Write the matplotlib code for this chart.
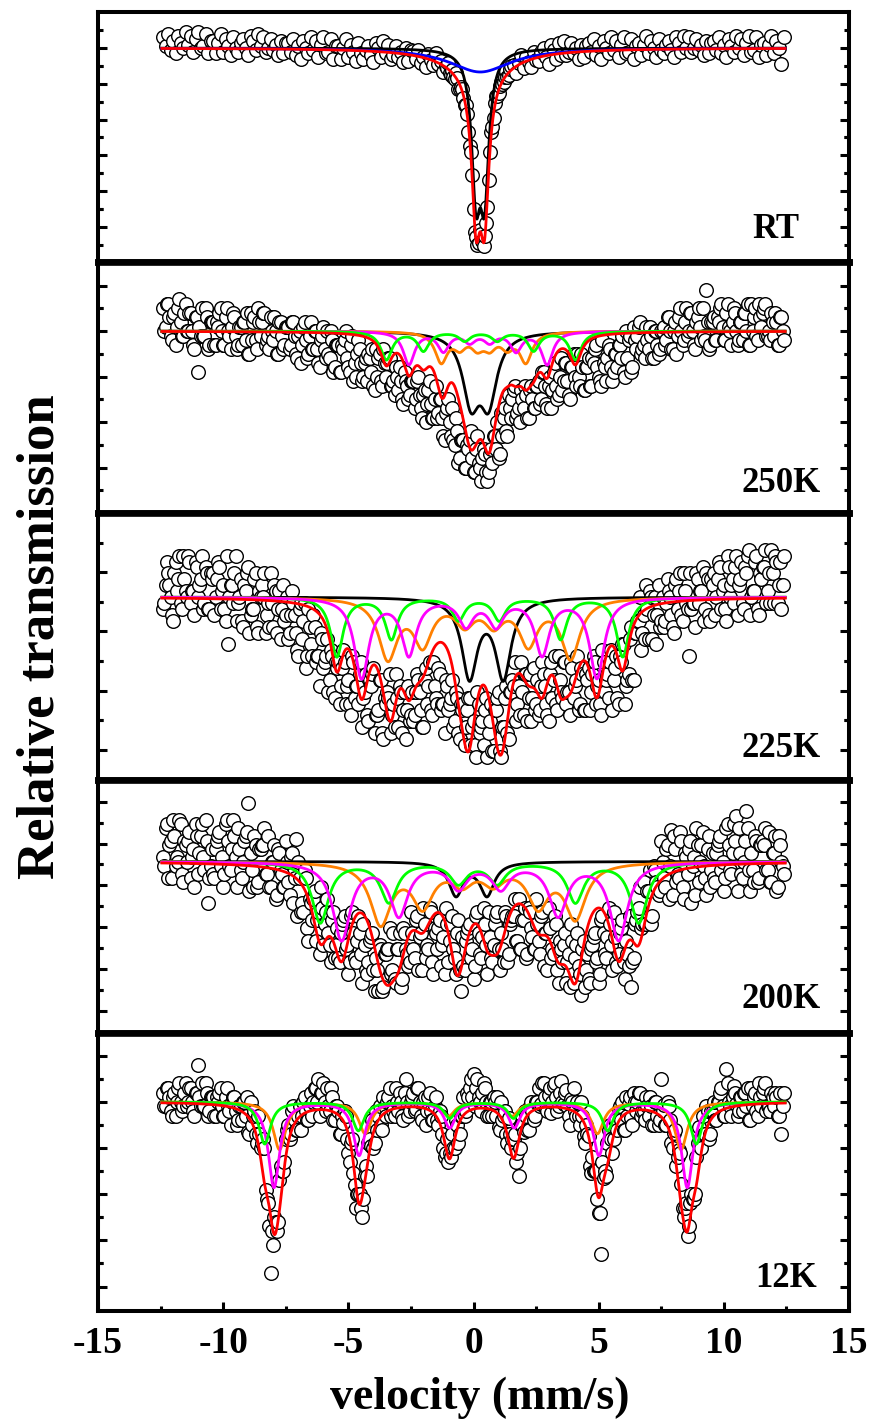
import numpy as np
import matplotlib
matplotlib.use("Agg")
import matplotlib.pyplot as plt

plt.rcParams["font.family"] = ["Liberation Serif", "DejaVu Serif"]
plt.rcParams["font.weight"] = "bold"
plt.rcParams["axes.unicode_minus"] = False

# velocity channels (mm/s): one every 0.1 mm/s, a second set shifted by half a
# channel for the noisy spectra, and extra channels in the RT line
vel = np.round(np.arange(-12.4, 12.41, 0.1), 2)
vel_b = np.round(np.arange(-12.35, 12.36, 0.1), 2)
rt_core_vel = np.round(np.arange(-1.05, 1.46, 0.1), 2)

# relative transmission (%), rows of 1 mm/s
rt_T = [
    100.30, 100.05, 100.40, 99.95, 100.20, 99.85, 100.35, 100.15, 100.00, 100.45,
    100.10, 100.35, 99.90, 100.25, 100.45, 100.00, 100.05, 100.40, 99.85, 100.20,
    100.20, 99.85, 100.15, 100.40, 99.90, 100.25, 100.05, 99.80, 100.30, 100.00,
    99.90, 100.15, 100.25, 100.00, 99.80, 100.35, 100.20, 99.95, 100.40, 100.05,
    100.30, 99.90, 100.00, 100.25, 99.95, 100.10, 99.80, 100.20, 99.85, 100.15,
    100.15, 99.90, 100.25, 99.80, 100.05, 99.70, 100.20, 100.00, 99.85, 100.30,
    99.95, 100.20, 99.75, 100.10, 100.30, 99.85, 99.90, 100.25, 99.70, 100.05,
    100.05, 99.70, 100.00, 100.25, 99.75, 100.10, 99.90, 99.65, 100.15, 99.85,
    99.70, 99.95, 100.05, 99.80, 99.60, 100.15, 100.00, 99.75, 100.20, 99.85,
    100.10, 99.70, 99.80, 100.05, 99.75, 99.90, 99.60, 100.00, 99.65, 99.95,
    99.92, 99.70, 99.96, 99.58, 99.76, 99.46, 99.84, 99.66, 99.52, 99.86,
    99.55, 99.65, 99.33, 99.50, 99.58, 99.24, 99.20, 99.31, 98.86, 98.91,
    98.60, 98.40, 97.65, 97.10, 95.50, 94.70, 94.55, 94.80, 94.45, 95.10,
    96.30, 97.65, 98.05, 98.65, 98.75, 99.05, 99.05, 99.35, 99.25, 99.50,
    99.53, 99.30, 99.57, 99.81, 99.44, 99.75, 99.62, 99.46, 99.88, 99.67,
    99.65, 99.90, 100.00, 99.75, 99.55, 100.10, 99.95, 99.70, 100.15, 99.80,
    100.20, 99.80, 99.90, 100.15, 99.85, 100.00, 99.70, 100.10, 99.75, 100.05,
    100.15, 99.90, 100.25, 99.80, 100.05, 99.70, 100.20, 100.00, 99.85, 100.30,
    99.95, 100.20, 99.75, 100.10, 100.30, 99.85, 99.90, 100.25, 99.70, 100.05,
    100.15, 99.80, 100.10, 100.35, 99.85, 100.20, 100.00, 99.75, 100.25, 99.95,
    99.85, 100.10, 100.20, 99.95, 99.75, 100.30, 100.15, 99.90, 100.35, 100.00,
    100.30, 99.90, 100.00, 100.25, 99.95, 100.10, 99.80, 100.20, 99.85, 100.15,
    100.20, 99.95, 100.30, 99.85, 100.10, 99.75, 100.25, 100.05, 99.90, 100.35,
    100.00, 100.25, 99.80, 100.15, 100.35, 99.90, 99.95, 100.30, 99.75, 100.10,
    100.15, 99.80, 100.10, 100.35, 99.85, 100.20, 100.00, 99.55, 100.30,
]
rt_core_T = [
    99.45, 99.30, 99.38, 99.12, 99.15, 98.85, 98.85, 98.40, 98.15, 97.25,
    96.45, 94.85, 94.50, 94.90, 94.60, 94.75, 95.55, 97.10, 97.80, 98.45,
    98.65, 98.95, 99.00, 99.20, 99.20, 99.40,
]
k250_T = [
    100.5, 100.1, 100.6, 99.9, 100.3, 99.7, 100.5, 100.2, 99.9, 100.6,
    100.0, 100.4, 99.7, 100.3, 99.1, 99.9, 99.9, 100.5, 99.6, 100.2,
    100.2, 99.7, 100.1, 100.5, 99.7, 100.3, 100.0, 99.6, 100.4, 99.9,
    99.7, 100.1, 100.2, 99.8, 99.5, 100.4, 100.2, 99.8, 100.5, 99.9,
    100.4, 99.7, 99.9, 100.3, 99.8, 100.0, 99.5, 100.2, 99.6, 100.1,
    100.1, 99.7, 100.2, 99.5, 99.9, 99.3, 100.1, 99.8, 99.5, 100.2,
    99.6, 100.0, 99.3, 99.8, 100.1, 99.4, 99.5, 100.0, 99.1, 99.7,
    99.7, 99.1, 99.6, 100.0, 99.2, 99.7, 98.9, 99.0, 99.8, 99.3,
    99.0, 99.4, 99.5, 99.1, 98.8, 99.6, 99.4, 98.9, 99.6, 99.0,
    99.4, 98.8, 98.9, 99.2, 98.7, 98.9, 98.4, 98.9, 98.5, 98.9,
    98.9, 98.5, 99.0, 98.3, 98.6, 98.0, 98.7, 98.4, 98.1, 98.8,
    98.2, 98.5, 97.7, 98.2, 98.5, 97.7, 97.6, 98.1, 97.1, 97.6,
    97.6, 97.0, 97.4, 97.8, 96.9, 97.4, 97.1, 96.7, 97.4, 96.9,
    96.9, 97.4, 97.7, 97.4, 97.2, 98.2, 98.1, 97.8, 98.6, 98.1,
    98.7, 98.1, 98.3, 98.7, 98.3, 98.6, 98.1, 98.8, 98.3, 98.8,
    98.9, 98.5, 99.1, 98.4, 98.8, 98.3, 99.1, 98.8, 98.6, 99.4,
    98.9, 99.3, 98.6, 99.2, 99.5, 98.8, 99.0, 99.5, 98.7, 99.2,
    99.4, 98.8, 99.3, 99.7, 99.0, 98.8, 99.3, 98.9, 99.7, 99.2,
    99.1, 99.5, 99.7, 99.4, 99.1, 100.0, 99.8, 99.1, 100.1, 99.6,
    100.1, 99.5, 99.7, 100.1, 99.6, 99.9, 99.4, 100.0, 99.5, 100.0,
    100.1, 99.8, 100.3, 99.6, 100.0, 99.5, 100.3, 100.0, 99.8, 100.5,
    100.0, 100.4, 99.7, 100.2, 100.5, 99.8, 99.9, 100.9, 99.6, 100.2,
    100.3, 99.8, 100.2, 100.6, 99.8, 100.4, 100.1, 99.7, 100.5, 100.0,
    99.8, 100.2, 100.4, 100.0, 99.7, 100.6, 100.3, 99.9, 100.6, 100.1,
    100.5, 99.9, 100.0, 100.4, 99.9, 100.2, 99.7, 100.3, 99.8,
]
k250_Tb = [
    100.0, 100.6, 100.3, 99.8, 100.4, 100.1, 100.7, 99.9, 100.4, 100.0,
    100.4, 100.0, 99.6, 100.3, 100.1, 100.5, 99.9, 100.3, 99.7, 100.2,
    99.7, 100.2, 100.4, 100.0, 99.7, 100.5, 99.9, 100.1, 100.3, 99.6,
    100.1, 99.7, 100.2, 100.4, 99.5, 99.8, 100.3, 99.6, 100.2, 100.2,
    100.4, 99.8, 99.6, 100.0, 100.3, 99.5, 100.2, 99.9, 99.7, 100.1,
    99.6, 100.2, 99.9, 99.4, 100.0, 99.7, 100.2, 99.4, 99.9, 99.6,
    100.0, 99.6, 99.2, 99.9, 99.6, 100.0, 99.4, 99.8, 99.2, 99.7,
    99.1, 99.7, 99.8, 99.4, 99.1, 99.9, 99.3, 99.5, 99.6, 98.9,
    99.3, 98.9, 99.4, 99.6, 98.7, 99.0, 99.5, 98.8, 99.3, 99.3,
    99.4, 98.8, 98.6, 99.0, 99.2, 98.5, 99.1, 98.8, 98.6, 98.9,
    98.3, 98.9, 98.6, 98.1, 98.7, 98.4, 98.9, 98.1, 98.5, 98.1,
    98.5, 98.1, 97.6, 98.3, 98.0, 98.3, 97.5, 97.8, 97.2, 97.6,
    97.0, 97.5, 97.6, 97.2, 96.9, 97.7, 97.0, 97.2, 97.3, 96.7,
    97.3, 97.1, 97.7, 98.0, 97.3, 97.7, 98.3, 97.7, 98.3, 98.5,
    98.8, 98.2, 98.0, 98.5, 98.8, 98.1, 98.7, 98.5, 98.3, 98.8,
    98.4, 99.1, 98.8, 98.3, 99.0, 98.7, 99.3, 98.5, 99.0, 98.7,
    99.3, 98.9, 98.5, 99.2, 99.0, 99.5, 98.8, 99.2, 98.7, 99.2,
    98.8, 99.4, 99.6, 99.2, 98.9, 99.8, 99.2, 99.4, 99.6, 98.9,
    99.5, 99.2, 99.7, 99.9, 99.0, 99.4, 99.9, 99.2, 99.8, 99.9,
    100.2, 99.6, 99.4, 99.8, 100.1, 99.4, 100.0, 99.7, 99.6, 100.0,
    99.7, 100.3, 100.0, 99.6, 100.2, 99.9, 100.5, 99.7, 100.2, 99.9,
    100.4, 100.0, 99.6, 100.3, 100.1, 100.5, 99.8, 100.2, 99.7, 100.2,
    99.8, 100.3, 100.5, 100.1, 99.8, 100.6, 100.0, 100.2, 100.4, 99.7,
    100.2, 99.8, 100.4, 100.6, 99.7, 100.0, 100.5, 99.8, 100.3, 100.4,
    100.6, 99.9, 99.8, 100.2, 100.4, 99.7, 100.3, 100.0,
]
k225_T = [
    99.8, 100.2, 100.4, 100.0, 99.6, 100.6, 100.3, 99.9, 100.7, 100.1,
    100.7, 99.9, 100.1, 100.6, 100.0, 100.3, 99.8, 100.5, 99.8, 100.4,
    100.4, 100.0, 100.6, 99.8, 100.2, 99.6, 99.2, 100.2, 99.9, 100.7,
    99.9, 100.3, 99.5, 100.1, 100.5, 99.7, 99.8, 100.4, 99.4, 100.0,
    100.0, 99.4, 99.9, 100.4, 99.5, 100.1, 99.8, 99.3, 100.2, 99.7,
    99.3, 99.7, 99.9, 99.4, 99.0, 99.9, 99.6, 98.8, 99.8, 99.2,
    99.7, 98.9, 99.0, 99.4, 98.8, 99.0, 98.4, 99.1, 98.4, 98.9,
    98.9, 98.5, 99.1, 98.2, 98.6, 98.0, 98.9, 98.5, 98.2, 98.9,
    98.3, 98.7, 97.9, 98.5, 98.8, 98.0, 98.1, 98.6, 97.6, 98.2,
    98.3, 97.7, 98.2, 98.7, 97.8, 98.4, 98.1, 97.6, 98.5, 98.0,
    97.9, 98.4, 98.6, 98.1, 97.8, 98.8, 98.5, 98.1, 98.9, 98.3,
    98.8, 98.1, 98.2, 98.6, 98.1, 98.3, 97.8, 98.4, 97.7, 98.2,
    98.2, 97.8, 98.3, 97.5, 97.9, 97.3, 98.2, 97.8, 97.5, 98.3,
    97.7, 98.2, 97.4, 98.1, 98.4, 97.3, 97.8, 98.5, 97.6, 98.4,
    98.5, 97.9, 98.5, 98.9, 98.0, 98.7, 98.3, 97.9, 98.8, 98.2,
    98.0, 98.5, 98.7, 98.2, 97.9, 98.9, 98.6, 98.2, 99.0, 98.4,
    98.9, 98.2, 98.4, 98.9, 98.3, 98.6, 98.1, 98.8, 98.1, 98.7,
    98.8, 98.4, 99.0, 98.2, 98.6, 98.0, 98.9, 98.6, 98.3, 99.1,
    98.6, 99.0, 98.2, 98.9, 99.2, 98.5, 98.7, 99.5, 98.6, 99.4,
    99.6, 99.1, 99.7, 100.2, 99.3, 100.0, 99.7, 99.2, 100.2, 99.6,
    99.5, 99.9, 100.1, 99.7, 99.4, 100.3, 100.1, 99.7, 100.4, 99.9,
    99.0, 99.8, 99.9, 100.4, 99.9, 100.1, 99.6, 100.4, 99.7, 100.3,
    100.4, 100.0, 100.6, 99.8, 100.2, 99.6, 100.5, 100.2, 99.9, 100.7,
    100.2, 100.6, 99.8, 100.4, 100.8, 100.0, 100.1, 100.7, 99.7, 100.3,
    100.5, 99.9, 100.4, 100.8, 99.9, 100.6, 100.2, 99.8, 100.7,
]
k225_Tb = [
    99.9, 100.6, 100.2, 99.7, 100.4, 100.1, 100.7, 99.8, 100.3, 100.0,
    100.6, 100.1, 99.7, 100.5, 100.2, 100.7, 99.9, 100.4, 99.8, 100.3,
    99.7, 100.3, 100.5, 100.1, 99.8, 100.7, 100.0, 100.2, 100.4, 99.6,
    100.0, 99.6, 100.2, 100.4, 99.4, 99.8, 100.3, 99.5, 100.1, 100.2,
    100.4, 99.7, 99.5, 99.9, 100.2, 99.4, 100.1, 99.8, 99.6, 100.0,
    99.4, 100.1, 99.7, 99.1, 99.8, 99.3, 99.9, 99.0, 99.5, 99.0,
    99.5, 99.0, 98.5, 99.3, 98.9, 99.3, 98.6, 99.0, 98.3, 98.8,
    98.2, 98.8, 98.9, 98.5, 98.2, 99.0, 98.3, 98.5, 98.7, 97.8,
    98.4, 98.0, 98.6, 98.7, 97.7, 98.0, 98.6, 97.7, 98.3, 98.4,
    98.7, 98.0, 97.8, 98.3, 98.5, 97.7, 98.4, 98.1, 97.9, 98.4,
    98.0, 98.7, 98.4, 97.8, 98.6, 98.2, 98.9, 98.0, 98.5, 98.2,
    98.7, 98.2, 97.7, 98.5, 98.2, 98.6, 97.9, 98.3, 97.6, 98.1,
    97.5, 98.1, 98.3, 97.8, 97.5, 98.4, 97.7, 97.9, 98.1, 97.3,
    97.9, 97.4, 98.1, 98.3, 97.4, 97.8, 98.3, 97.7, 98.4, 98.6,
    98.9, 98.2, 98.0, 98.4, 98.7, 97.9, 98.7, 98.3, 98.1, 98.6,
    98.1, 98.9, 98.5, 98.0, 98.7, 98.3, 99.0, 98.1, 98.6, 98.3,
    98.9, 98.4, 98.0, 98.8, 98.5, 99.0, 98.2, 98.7, 98.1, 98.6,
    98.1, 98.7, 98.9, 98.5, 98.2, 99.1, 98.4, 98.7, 98.9, 98.1,
    98.8, 98.3, 99.0, 99.2, 98.2, 98.6, 99.3, 98.6, 99.4, 99.6,
    100.0, 99.4, 99.3, 99.8, 100.1, 99.3, 100.0, 99.7, 99.5, 100.0,
    99.6, 100.3, 100.0, 99.5, 100.2, 99.8, 100.4, 99.6, 100.1, 99.8,
    100.4, 99.9, 99.5, 100.3, 100.1, 100.5, 99.8, 100.3, 99.6, 100.2,
    99.7, 100.3, 100.5, 100.1, 99.8, 100.7, 100.0, 100.3, 100.5, 99.7,
    100.3, 99.9, 100.5, 100.7, 99.7, 100.1, 100.6, 99.8, 100.4, 100.5,
    100.8, 100.1, 99.9, 100.4, 100.7, 99.9, 100.6, 100.2,
]
k200_T = [
    100.1, 100.8, 99.6, 100.5, 101.0, 99.9, 100.0, 100.9, 99.5, 100.4,
    100.5, 99.6, 100.3, 100.9, 99.7, 100.6, 100.1, 101.0, 99.0, 99.9,
    99.7, 100.3, 100.6, 99.9, 99.4, 100.9, 100.5, 99.8, 101.0, 100.1,
    100.8, 99.8, 100.0, 100.6, 101.4, 100.2, 99.4, 100.4, 99.5, 100.3,
    100.4, 99.7, 100.6, 99.4, 100.0, 99.1, 100.3, 99.8, 99.4, 100.5,
    99.5, 100.1, 99.0, 100.55, 100.0, 98.8, 98.8, 99.6, 98.1, 99.0,
    99.1, 98.1, 98.8, 99.4, 98.0, 98.8, 98.3, 97.6, 98.8, 98.0,
    97.7, 98.3, 98.6, 97.9, 97.3, 98.7, 98.3, 97.6, 98.7, 97.8,
    98.5, 97.4, 97.6, 98.2, 97.4, 97.7, 96.9, 97.9, 97.0, 97.8,
    97.9, 97.3, 98.3, 97.1, 97.9, 97.0, 98.4, 97.9, 97.5, 98.8,
    97.9, 98.6, 97.4, 98.3, 98.9, 97.7, 97.9, 98.8, 97.3, 98.3,
    98.4, 97.5, 98.2, 98.9, 97.6, 98.5, 97.9, 97.3, 98.6, 96.9,
    97.5, 98.1, 98.4, 97.7, 97.2, 98.7, 98.3, 97.7, 98.9, 98.0,
    98.8, 97.7, 98.0, 98.7, 97.9, 98.3, 97.6, 98.7, 97.8, 98.6,
    98.7, 98.1, 99.1, 97.9, 98.6, 97.7, 98.9, 98.4, 97.9, 99.1,
    98.1, 98.7, 97.5, 98.3, 98.9, 97.7, 97.8, 98.5, 97.1, 97.9,
    98.0, 97.1, 97.8, 98.5, 97.1, 98.0, 97.5, 96.8, 98.1, 97.4,
    97.2, 97.9, 98.2, 97.6, 97.1, 98.6, 98.3, 97.7, 98.9, 98.0,
    98.8, 97.6, 97.8, 98.4, 97.6, 98.1, 97.5, 97.0, 97.7, 98.6,
    98.9, 98.4, 99.5, 98.5, 99.3, 98.5, 99.9, 99.5, 99.2, 100.5,
    99.6, 100.3, 99.1, 100.75, 100.6, 99.5, 99.6, 100.5, 99.1, 100.1,
    100.3, 99.0, 100.1, 100.8, 99.5, 100.4, 99.9, 99.2, 100.6, 99.8,
    99.6, 100.2, 100.5, 99.8, 99.3, 100.8, 100.4, 99.7, 100.9, 101.1,
    100.8, 99.7, 100.0, 101.2, 99.8, 100.2, 99.5, 100.5, 99.6, 100.4,
    100.4, 99.8, 100.7, 99.5, 100.2, 99.3, 100.6, 100.0, 99.7,
]
k200_Tb = [
    99.9, 100.9, 100.4, 99.6, 100.6, 100.1, 101.0, 99.7, 100.5, 100.0,
    100.7, 100.1, 99.4, 100.6, 100.2, 100.9, 99.8, 100.5, 99.6, 100.3,
    99.6, 100.5, 100.7, 100.1, 99.7, 101.0, 99.9, 100.3, 100.6, 99.4,
    100.3, 99.6, 100.5, 100.7, 99.3, 99.8, 100.6, 99.4, 100.3, 100.4,
    100.8, 99.7, 99.4, 100.0, 100.4, 99.2, 100.2, 99.7, 99.4, 100.0,
    99.2, 100.2, 99.6, 98.7, 99.6, 99.0, 99.8, 98.4, 99.1, 98.6,
    99.3, 98.6, 97.8, 98.9, 98.5, 99.1, 98.0, 98.6, 97.7, 98.4,
    97.6, 98.5, 98.7, 98.0, 97.6, 98.8, 97.7, 98.1, 98.3, 97.1,
    98.0, 97.3, 98.1, 98.3, 96.9, 97.4, 98.0, 96.9, 97.8, 97.9,
    98.4, 97.4, 97.2, 97.9, 98.3, 97.2, 98.3, 97.8, 97.6, 98.3,
    97.7, 98.7, 98.2, 97.4, 98.5, 98.0, 98.9, 97.6, 98.4, 97.9,
    98.6, 98.0, 97.3, 98.5, 98.1, 98.7, 97.7, 98.3, 97.4, 98.2,
    97.4, 98.3, 98.5, 97.9, 97.5, 98.8, 97.8, 98.2, 98.5, 97.3,
    98.2, 97.6, 98.5, 98.8, 97.4, 97.9, 98.8, 97.6, 98.5, 98.7,
    99.1, 98.1, 97.9, 98.6, 98.9, 97.8, 98.8, 98.2, 97.9, 98.5,
    97.8, 98.8, 98.3, 97.4, 98.4, 97.9, 98.7, 97.4, 98.1, 97.6,
    98.3, 97.6, 97.0, 98.1, 97.7, 98.3, 97.3, 97.9, 97.0, 97.8,
    97.1, 98.0, 98.3, 97.7, 97.3, 98.7, 97.8, 98.2, 98.5, 97.4,
    98.2, 97.5, 98.3, 98.6, 97.2, 97.8, 98.7, 97.6, 98.5, 98.8,
    99.4, 98.5, 98.5, 99.3, 99.8, 98.7, 99.8, 99.4, 99.3, 100.0,
    99.4, 100.4, 99.9, 99.2, 100.3, 99.7, 100.7, 99.4, 100.2, 99.7,
    100.5, 99.9, 99.2, 100.4, 100.0, 100.7, 99.6, 100.3, 99.4, 100.2,
    99.5, 100.4, 100.6, 100.0, 99.6, 100.9, 99.8, 100.2, 100.5, 99.3,
    100.2, 99.6, 100.5, 100.8, 99.3, 99.8, 100.6, 99.5, 100.4, 100.5,
    100.8, 99.8, 99.5, 100.2, 100.6, 99.4, 100.4, 99.9,
]
k12_T = [
    100.2, 99.9, 100.3, 99.8, 100.1, 99.7, 100.3, 100.0, 99.9, 100.4,
    100.0, 100.3, 99.8, 100.2, 100.8, 99.9, 99.9, 100.4, 99.7, 100.1,
    100.1, 99.7, 100.0, 100.3, 99.7, 100.1, 99.9, 99.5, 100.1, 99.8,
    99.6, 99.9, 100.0, 99.7, 99.35, 100.0, 99.7, 99.3, 99.7, 99.0,
    99.2, 98.1, 97.8, 96.3, 96.9, 97.4, 97.4, 98.6, 98.5, 99.2,
    99.5, 99.3, 99.9, 99.4, 99.7, 99.4, 100.0, 99.8, 99.6, 100.2,
    100.0, 100.3, 100.5, 100.2, 100.4, 99.8, 99.9, 100.3, 99.6, 99.9,
    99.8, 99.3, 99.55, 99.7, 98.9, 99.1, 98.45, 97.7, 98.0, 97.7,
    97.9, 98.6, 99.1, 99.05, 99.0, 99.8, 99.7, 99.5, 100.1, 99.7,
    100.1, 99.7, 99.8, 100.3, 99.8, 100.0, 99.6, 100.5, 99.7, 100.0,
    100.2, 99.85, 100.3, 99.7, 100.0, 99.5, 100.1, 99.8, 99.6, 100.1,
    99.5, 99.7, 99.0, 98.9, 98.7, 98.8, 99.0, 99.6, 99.1, 99.7,
    100.1, 99.8, 100.1, 100.5, 100.6, 100.3, 100.1, 99.8, 100.4, 100.0,
    99.7, 100.0, 100.1, 99.7, 99.45, 100.0, 99.7, 99.3, 99.65, 99.0,
    99.2, 98.7, 98.4, 99.5, 99.35, 99.7, 99.4, 100.0, 99.6, 100.0,
    100.3, 99.95, 100.4, 99.85, 100.15, 99.75, 100.35, 100.1, 99.9, 100.45,
    99.95, 100.25, 99.7, 100.05, 100.3, 99.7, 99.7, 100.0, 99.25, 99.5,
    99.26, 98.45, 98.5, 98.5, 97.6, 96.7, 98.36, 98.4, 99.4, 99.2,
    99.2, 99.6, 99.85, 99.6, 99.4, 100.1, 99.95, 99.65, 100.2, 99.8,
    100.2, 99.7, 99.8, 100.1, 99.7, 99.9, 99.5, 100.0, 99.5, 100.5,
    99.94, 99.5, 99.9, 99.1, 99.33, 98.6, 98.96, 98.23, 97.5, 97.8,
    97.3, 98.0, 97.9, 98.8, 99.45, 99.0, 99.3, 99.9, 99.2, 99.8,
    100.0, 99.6, 100.0, 100.3, 99.7, 100.7, 100.0, 99.7, 100.35, 99.95,
    99.8, 100.1, 100.2, 99.9, 99.6, 100.3, 100.1, 99.8, 100.4, 99.9,
    100.3, 99.8, 99.9, 100.2, 99.9, 100.1, 99.7, 99.3, 100.2,
]
k12_Tb = [
    99.9, 100.3, 100.1, 99.7, 100.2, 100.0, 100.4, 99.8, 100.2, 99.9,
    100.3, 100.0, 99.7, 100.2, 100.1, 100.4, 99.9, 100.2, 99.8, 100.1,
    99.7, 100.1, 100.2, 99.9, 99.7, 100.3, 99.8, 100.0, 100.1, 99.5,
    99.9, 99.6, 100.0, 100.1, 99.3, 99.5, 99.8, 99.1, 99.3, 99.1,
    99.0, 97.9, 97.3, 97.2, 97.5, 97.2, 98.3, 98.5, 98.7, 99.4,
    99.2, 99.8, 99.6, 99.4, 99.9, 99.7, 100.1, 99.6, 99.9, 99.7,
    100.3, 100.0, 99.7, 100.2, 100.0, 100.3, 99.8, 100.1, 99.6, 99.9,
    99.3, 99.7, 99.8, 99.2, 98.7, 99.2, 98.2, 98.0, 98.0, 97.5,
    98.4, 98.4, 99.2, 99.6, 99.1, 99.4, 99.9, 99.4, 99.9, 100.0,
    100.3, 99.9, 99.7, 100.0, 100.2, 99.7, 100.2, 100.0, 99.8, 100.1,
    99.8, 100.3, 100.0, 99.6, 100.1, 99.8, 100.2, 99.6, 99.9, 99.6,
    99.8, 99.3, 98.8, 99.2, 98.9, 99.3, 99.0, 99.5, 99.3, 99.7,
    99.7, 100.2, 100.3, 100.1, 99.9, 100.5, 100.0, 100.2, 100.3, 99.7,
    100.0, 99.7, 100.0, 100.1, 99.4, 99.6, 99.8, 99.1, 99.3, 99.2,
    99.3, 98.9, 99.0, 99.5, 99.8, 99.4, 99.9, 99.8, 99.7, 100.0,
    99.9, 100.4, 100.1, 99.8, 100.3, 100.0, 100.4, 99.8, 100.2, 100.0,
    100.2, 99.9, 99.5, 100.0, 99.8, 100.0, 99.5, 99.7, 99.1, 99.3,
    98.6, 98.8, 98.5, 97.9, 97.6, 98.7, 98.5, 99.1, 99.5, 98.9,
    99.6, 99.4, 99.9, 100.0, 99.4, 99.7, 100.1, 99.5, 100.0, 100.0,
    100.2, 99.8, 99.6, 99.9, 100.1, 99.5, 100.0, 99.7, 99.6, 99.8,
    99.5, 100.0, 99.6, 99.0, 99.4, 98.8, 98.9, 97.7, 97.7, 97.1,
    97.8, 97.9, 98.0, 99.1, 99.2, 99.7, 99.3, 99.8, 99.3, 99.8,
    99.6, 100.0, 100.2, 99.9, 99.7, 100.4, 99.9, 100.1, 100.2, 99.7,
    100.1, 99.8, 100.2, 100.3, 99.6, 99.9, 100.2, 99.7, 100.1, 100.2,
    100.4, 99.9, 99.8, 100.1, 100.2, 99.7, 100.2, 99.9,
]

# fitted sub-spectra: colour -> (line centres mm/s, line depths %, FWHM mm/s)
RT_FIT = {"black": ([0.10, 0.44], [3.7, 3.7], 0.42),
          "blue": ([0.27], [0.67], 3.0)}
K250_FIT = {"black": ([-0.10, 0.60], [1.45, 1.45], 0.8),
            "#ff8000": ([-1.29, -0.55, 0.15, 0.65, 1.35, 2.09], [0.65, 0.3, 0.3, 0.3, 0.3, 0.65], 0.6),
            "#ff00ff": ([-2.58, -1.2, -0.15, 0.65, 1.7, 2.94], [0.72, 0.42, 0.22, 0.22, 0.42, 0.72], 0.55),
            "#00ff00": ([-3.48, -2.0, -0.35, 0.95, 2.4, 4.07], [0.62, 0.42, 0.2, 0.2, 0.42, 0.62], 0.55)}
K225_FIT = {"black": ([-0.16, 1.19], [1.33, 1.33], 0.75),
            "#ff8000": ([-3.42, -2.03, -0.35, 0.81, 2.19, 3.88], [1.0, 0.75, 0.4, 0.4, 0.75, 1.0], 0.9),
            "#00ff00": ([-5.46, -3.28, -0.6, 1.03, 3.48, 5.96], [1.0, 0.7, 0.38, 0.38, 0.7, 1.0], 0.6),
            "#ff00ff": ([-4.47, -2.58, -0.3, 0.9, 2.74, 4.93], [1.35, 0.95, 0.45, 0.45, 0.95, 1.35], 0.7)}
K200_FIT = {"black": ([-0.70, 0.54], [0.79, 0.79], 0.69),
            "#ff8000": ([-3.71, -2.03, -0.45, 0.79, 2.58, 4.07], [1.45, 1.0, 0.45, 0.45, 1.0, 1.3], 1.0),
            "#00ff00": ([-6.12, -3.38, -0.6, 0.95, 4.07, 6.6], [1.45, 0.95, 0.5, 0.5, 0.95, 1.45], 0.8),
            "#ff00ff": ([-5.27, -2.98, -0.6, 1.09, 3.38, 5.8], [1.85, 1.25, 0.6, 0.6, 1.25, 1.85], 0.85)}
K12_FIT = {"#ff8000": ([-7.75, -4.33, -1.0, 1.54, 4.95, 8.29], [1.03, 0.68, 0.3, 0.3, 0.68, 1.03], 0.6),
           "#ff00ff": ([-7.97, -4.57, -0.95, 1.63, 5.01, 8.54], [1.85, 1.15, 0.55, 0.55, 1.15, 1.85], 0.55),
           "#00ff00": ([-8.34, -4.6, -0.95, 1.6, 5.36, 8.9], [0.91, 0.62, 0.35, 0.35, 0.62, 0.91], 0.55)}

LABELS = ["RT", "250K", "225K", "200K", "12K"]


def lorentz(v, centres, depths, fwhm):
    out = np.zeros_like(v)
    for c, d in zip(centres, depths):
        out += d / (1 + ((v - c) / (fwhm / 2)) ** 2)
    return out


# per-panel: data, fit, y window (%), first major tick, label position (axes fraction)
PANELS = [
    (np.concatenate([vel, rt_core_vel]), rt_T + rt_core_T, RT_FIT, (94.01, 101.01), 100.0, (0.871, 0.096)),
    (np.concatenate([vel, vel_b]), k250_T + k250_Tb, K250_FIT, (96.0, 101.52), 101.0, (0.857, 0.084)),
    (np.concatenate([vel, vel_b]), k225_T + k225_Tb, K225_FIT, (96.91, 101.42), 100.42, (0.857, 0.086)),
    (np.concatenate([vel, vel_b]), k200_T + k200_Tb, K200_FIT, (95.90, 101.95), 101.43, (0.857, 0.099)),
    (np.concatenate([vel, vel_b]), k12_T + k12_Tb, K12_FIT, (95.47, 101.49), 101.0, (0.875, 0.086)),
]

fig = plt.figure(figsize=(8.69, 14.27), dpi=100)
gs = fig.add_gridspec(5, 1, height_ratios=[250, 251, 267, 253, 278], hspace=0,
                      left=98 / 869, right=849 / 869, top=1 - 12 / 1427, bottom=1 - 1311 / 1427)
vfine = np.linspace(-12.45, 12.45, 1500)

for i, (v, t, fit, ylim, tick0, lpos) in enumerate(PANELS):
    ax = fig.add_subplot(gs[i])
    order = np.argsort(v, kind="stable")
    ax.plot(np.asarray(v)[order], np.asarray(t)[order], "o", ms=9.8, mfc="white",
            mec="black", mew=1.0, zorder=1)
    total = np.zeros_like(vfine)
    for color, (cen, dep, w) in fit.items():
        dip = lorentz(vfine, cen, dep, w)
        total += dip
        ax.plot(vfine, 100 - dip, color=color, lw=2.0, zorder=2)
    ax.plot(vfine, 100 - total, color="red", lw=2.0, zorder=3)

    ax.set_xlim(-15, 15)
    ax.set_ylim(*ylim)
    major = np.arange(tick0, ylim[0], -1.0)
    minor = np.concatenate([major + 0.5, major - 0.5])
    minor = minor[(minor > ylim[0] + 0.05) & (minor < ylim[1] - 0.05)]
    ax.set_yticks(major)
    ax.set_yticks(minor, minor=True)
    ax.tick_params(axis="y", which="both", direction="in", left=True, right=True,
                   labelleft=False, width=2.2)
    ax.tick_params(axis="y", which="major", length=6.5)
    ax.tick_params(axis="y", which="minor", length=3.5)
    for side in ["left", "right", "top", "bottom"]:
        ax.spines[side].set_linewidth(2.9)
    if i > 0:
        ax.spines["top"].set_linewidth(4.8)
    if i < 4:
        ax.spines["bottom"].set_linewidth(4.8)
        ax.tick_params(axis="x", which="both", bottom=False, top=False, labelbottom=False)
    else:
        ax.set_xticks(np.arange(-15, 16, 5))
        ax.set_xticks(np.arange(-12.5, 15, 5), minor=True)
        ax.tick_params(axis="x", which="both", direction="in", top=False, width=2.2,
                       labelsize=27, pad=11)
        ax.tick_params(axis="x", which="major", length=6.5)
        ax.tick_params(axis="x", which="minor", length=3.5)
    ax.text(lpos[0], lpos[1], LABELS[i], transform=ax.transAxes, ha="left", va="baseline",
            fontsize=25, fontweight="bold")

fig.text(480 / 869, 1 - 1398 / 1427, "velocity (mm/s)", ha="center", va="center",
         fontsize=33, fontweight="bold")
fig.text(41 / 869, 1 - 637 / 1427, "Relative transmission", ha="center", va="center",
         rotation=90, fontsize=38, fontweight="bold")

fig.savefig("out.png", dpi=100)
